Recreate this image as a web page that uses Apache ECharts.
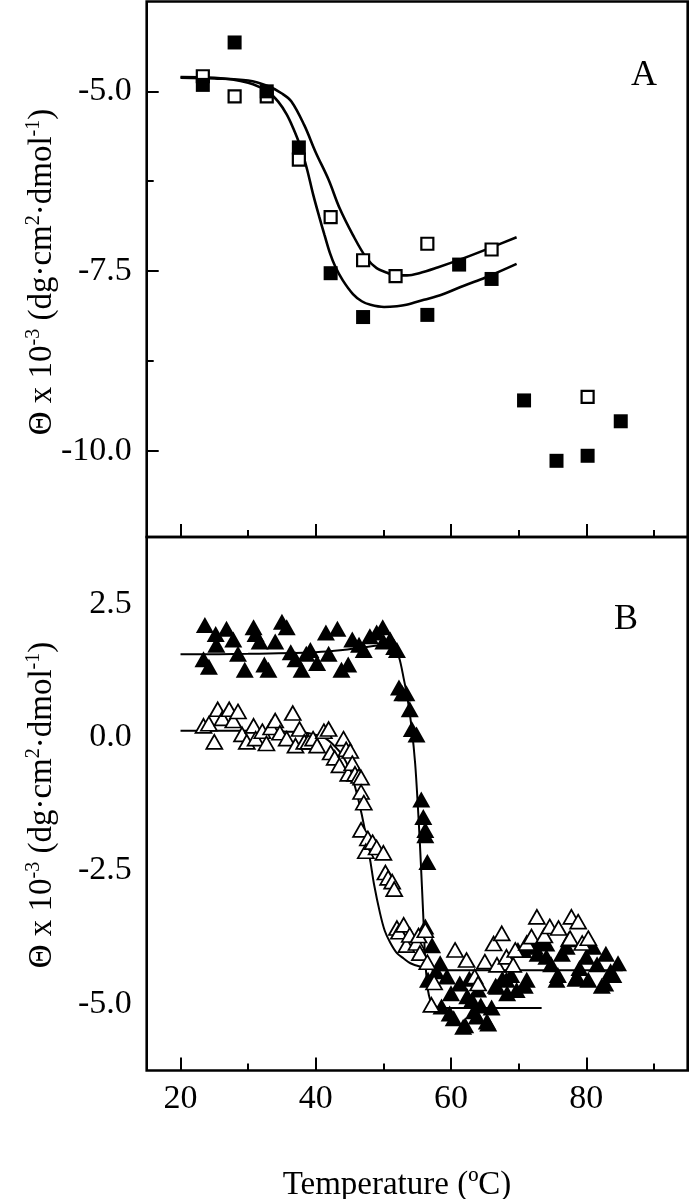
<!DOCTYPE html>
<html><head><meta charset="utf-8">
<script src="https://cdn.jsdelivr.net/npm/echarts@6/dist/echarts.min.js"></script>
<style>html,body{margin:0;padding:0;background:#fff}#c{width:691px;height:1199px}</style>
</head><body><div id="c"></div>
<script>
// ---- tick values ----
const xMajorTicks = [20, 40, 60, 80];
const xMinorTicks = [30, 50, 70, 90];
const yMajorTicksA = [-10, -7.5, -5];
const yMinorTicksA = [-8.75, -6.25];
const yLabelsB = [-5, -2.5, 0, 2.5];

// ---- panel A data ----
const aFilledSquares = [[23.3,-4.91],[28.0,-4.32],[32.75,-5.0],[37.5,-5.78],[42.2,-7.53],[47.0,-8.14],[56.5,-8.11],[61.2,-7.41],[66.0,-7.61],[70.8,-9.30],[75.6,-10.14],[80.2,-10.07],[85.1,-9.59]];
const aOpenSquares = [[23.3,-4.79],[28.0,-5.07],[32.75,-5.07],[37.5,-5.95],[42.2,-6.75],[47.0,-7.35],[51.8,-7.57],[56.5,-7.12],[66.0,-7.20],[80.2,-9.25]];
const aFitOpen = [[20,-4.81],[25,-4.82],[30,-4.85],[33,-4.93],[35,-5.03],[36.4,-5.14],[38.3,-5.47],[40,-5.85],[41.9,-6.23],[43.5,-6.62],[45.5,-7.0],[47.5,-7.32],[49,-7.46],[50.7,-7.53],[52,-7.56],[53.5,-7.56],[55.3,-7.53],[58,-7.45],[61.9,-7.32],[66,-7.17],[69.7,-7.03]];
const aFitFilled = [[20,-4.80],[25,-4.81],[30,-4.88],[33,-5.01],[34.5,-5.15],[35.7,-5.32],[36.7,-5.52],[37.7,-5.76],[38.7,-6.08],[39.6,-6.43],[40.5,-6.74],[41.3,-7.0],[42.1,-7.25],[42.9,-7.44],[44,-7.63],[45.5,-7.82],[46.8,-7.92],[48.1,-7.97],[50.1,-8.0],[52,-7.99],[53.4,-7.97],[56,-7.9],[58.6,-7.83],[62,-7.7],[65.1,-7.59],[69.7,-7.4]];

// ---- panel B data ----
const bFilledTriangles = [[23.6,2.10],[23.4,1.46],[24.2,1.32],[25.2,1.93],[25.3,1.73],[26.8,2.03],[27.8,1.83],[28.5,1.56],[29.5,1.26],[30.8,2.06],[31.1,1.93],[31.7,1.79],[32.4,1.36],[33.0,1.26],[34.0,1.79],[35.0,2.16],[35.7,2.06],[36.3,1.59],[37.0,1.46],[37.9,1.26],[38.6,1.56],[39.2,1.63],[40.2,1.39],[41.5,1.96],[41.9,1.56],[43.2,2.03],[43.8,1.26],[44.8,1.36],[45.4,1.83],[46.4,1.73],[47.1,1.63],[48.0,1.89],[49.0,1.96],[49.9,2.06],[50.0,1.79],[51.0,1.83],[51.6,1.69],[52.0,1.63],
[52.3,0.93],[52.8,0.82],[53.4,0.82],[53.9,0.52],[54.2,0.15],[54.9,0.05],[55.6,-1.17],[55.9,-1.50],[56.2,-1.74],[56.2,-1.84],[56.5,-2.34],[56.2,-3.55],[57.2,-3.90],
[58.4,-4.24],[56.6,-4.55],[57.8,-4.39],[59.4,-4.49],[60.0,-4.80],[61.3,-4.62],[58.6,-5.05],[59.8,-5.18],[60.4,-5.27],[61.8,-5.43],[62.1,-5.40],[62.4,-4.86],[62.7,-4.53],[63.1,-4.93],[63.4,-5.14],[63.8,-5.24],[64.0,-4.73],[64.4,-5.03],[65.3,-5.33],[65.5,-5.37],[66.0,-5.07],[66.6,-4.66],[66.8,-4.68],[67.6,-4.53],[68.2,-4.55],[68.3,-4.80],[68.9,-4.46],[69.7,-4.74],[69.9,-3.99],[70.7,-3.99],[70.9,-4.66],[71.2,-4.55],[71.9,-3.92],[72.4,-3.93],[72.8,-4.06],[73.5,-3.86],[74.1,-3.87],[74.1,-4.12],[74.8,-4.26],[75.6,-4.55],[75.8,-4.46],[76.4,-4.06],[77.1,-3.93],[77.4,-3.79],[78.4,-4.53],[78.6,-4.49],[79.0,-4.33],[80.0,-4.12],[80.3,-4.55],[81.0,-3.93],[81.6,-4.26],[82.3,-4.66],[82.8,-4.62],[82.9,-4.06],[83.6,-4.39],[84.0,-4.46],[84.7,-4.24]];
const bOpenTriangles = [[23.4,0.21],[24.2,0.25],[25.0,-0.09],[25.5,0.52],[26.2,0.35],[27.2,0.52],[27.8,0.31],[28.5,0.48],[29.1,0.05],[29.8,-0.09],[30.8,0.21],[31.1,-0.03],[32.1,0.11],[32.7,-0.12],[33.4,0.18],[34.0,0.31],[34.7,0.08],[35.7,-0.03],[36.6,0.45],[37.0,-0.16],[37.6,0.15],[38.3,-0.09],[38.9,-0.09],[39.6,-0.03],[40.2,-0.16],[41.2,0.11],[41.9,0.15],[42.2,-0.29],[42.8,-0.39],[43.5,-0.53],[44.1,-0.03],[44.5,-0.23],[44.8,-0.69],[45.1,-0.26],[45.4,-0.49],[45.8,-0.69],[46.4,-0.73],[46.7,-0.76],[46.7,-1.03],[47.1,-1.23],[46.7,-1.74],[47.7,-1.90],[47.4,-2.14],[48.4,-1.97],[49.0,-2.07],[50.0,-2.17],[50.3,-2.54],[50.7,-2.64],[51.3,-2.71],[51.6,-2.85],
[52.0,-3.58],[52.3,-3.65],[53.0,-3.52],[53.4,-3.90],[53.9,-3.71],[54.9,-3.86],[55.2,-3.72],[55.4,-4.05],[56.2,-3.62],[56.5,-4.22],[57.1,-5.02],[57.5,-4.60],
[60.6,-3.99],[62.3,-4.18],[63.5,-4.49],[64.0,-4.62],[65.0,-4.21],[66.3,-3.87],[66.8,-4.27],[67.5,-3.68],[68.2,-4.12],[69.2,-4.27],[69.5,-3.99],[71.2,-3.86],[71.9,-3.74],[72.7,-3.37],[73.8,-3.72],[74.6,-3.55],[75.9,-3.58],[77.6,-3.77],[77.8,-3.37],[78.8,-3.46],[79.4,-3.86],[80.3,-3.77]];
const bFitFilled = [[20,1.55],[30,1.56],[40,1.59],[44,1.63],[47,1.68],[50,1.72],[51.5,1.68],[52.3,1.5],[53,1.1],[53.6,0.7],[54.2,0.15],[54.7,-0.5],[55.1,-1.3],[55.4,-2.0],[55.7,-2.8],[55.95,-3.5],[56.2,-4.2],[56.6,-4.75],[57.2,-5.0],[58.3,-5.07],[60,-5.08],[73.4,-5.08]];
const bFitOpen = [[20,0.12],[30,0.12],[36,0.1],[39,0.07],[41.5,-0.03],[43.5,-0.27],[44.5,-0.47],[45.3,-0.72],[46.1,-1.07],[46.8,-1.45],[47.5,-1.9],[48.1,-2.35],[48.6,-2.75],[49.5,-3.3],[50.2,-3.63],[51,-3.85],[52,-4.05],[53,-4.15],[54,-4.24],[55.4,-4.3],[57.9,-4.36],[60,-4.37],[85.4,-4.37]];

const FONT = '"Liberation Serif", "Times New Roman", serif';
const fmt = v => Number(v).toFixed(1);

const chart = echarts.init(document.getElementById('c'), null, {renderer: 'canvas'});

function xAx(gridIndex, ticks, len, labels) {
  return {
    type: 'value', gridIndex, min: 15, max: 95, position: 'bottom',
    axisLine: {show: false, onZero: false},
    splitLine: {show: false},
    axisTick: {show: true, inside: true, length: len, customValues: ticks, lineStyle: {color: '#000', width: 2}},
    axisLabel: labels ? {show: true, customValues: ticks, fontSize: 34, fontFamily: FONT, color: '#000', margin: 12} : {show: false}
  };
}
function yAx(gridIndex, min, max, ticks, len, labels) {
  return {
    type: 'value', gridIndex, min, max, position: 'left',
    axisLine: {show: false, onZero: false},
    splitLine: {show: false},
    axisTick: ticks ? {show: true, inside: true, length: len, customValues: ticks, lineStyle: {color: '#000', width: 2}} : {show: false},
    axisLabel: labels ? {show: true, customValues: labels, formatter: fmt, fontSize: 34, fontFamily: FONT, color: '#000', margin: 15} : {show: false}
  };
}

const titleText = 'Θ x 10{s|-3} (dg·cm{s|2}·dmol{s|-1})';
function yTitle(y) {
  return {type: 'text', x: 42, y: y, rotation: Math.PI / 2, z: 10, style: {
    text: titleText, fontSize: 33, fontFamily: FONT, fill: '#000', lineHeight: 37,
    align: 'center', verticalAlign: 'middle', textAlign: 'center', textVerticalAlign: 'middle',
    rich: {s: {fontSize: 20, fontFamily: FONT, fill: '#000', verticalAlign: 'top', lineHeight: 20}}}};
}

const option = {
  animation: false,
  backgroundColor: '#fff',
  grid: [
    {left: 146.7, top: 1.5, width: 541, height: 535.5, show: true, borderColor: '#000', borderWidth: 2.6, backgroundColor: 'transparent'},
    {left: 146.7, top: 537, width: 541, height: 533.5, show: true, borderColor: '#000', borderWidth: 2.6, backgroundColor: 'transparent'}
  ],
  xAxis: [
    xAx(0, xMajorTicks, 13, false),
    xAx(0, xMinorTicks, 7, false),
    xAx(1, xMajorTicks, 13, true),
    xAx(1, xMinorTicks, 7, false)
  ],
  yAxis: [
    yAx(0, -11.2, -3.75, yMajorTicksA, 12, yMajorTicksA),
    yAx(0, -11.2, -3.75, yMinorTicksA, 7, null),
    yAx(1, -6.25, 3.75, null, 0, yLabelsB)
  ],
  series: [
    {type: 'line', xAxisIndex: 0, yAxisIndex: 0, data: aFitOpen, smooth: 0.35, showSymbol: false, z: 1,
     lineStyle: {color: '#000', width: 2.6}},
    {type: 'line', xAxisIndex: 0, yAxisIndex: 0, data: aFitFilled, smooth: 0.35, showSymbol: false, z: 1,
     lineStyle: {color: '#000', width: 2.6}},
    {type: 'scatter', xAxisIndex: 0, yAxisIndex: 0, data: aOpenSquares, symbol: 'rect', symbolSize: 12, z: 3,
     itemStyle: {color: '#fff', borderColor: '#000', borderWidth: 2.2, opacity: 1}},
    {type: 'scatter', xAxisIndex: 0, yAxisIndex: 0, data: aFilledSquares, symbol: 'rect', symbolSize: 14, z: 4,
     itemStyle: {color: '#000', opacity: 1}},
    {type: 'line', xAxisIndex: 2, yAxisIndex: 2, data: bFitFilled, smooth: 0.3, showSymbol: false, z: 1,
     lineStyle: {color: '#000', width: 2}},
    {type: 'line', xAxisIndex: 2, yAxisIndex: 2, data: bFitOpen, smooth: 0.3, showSymbol: false, z: 1,
     lineStyle: {color: '#000', width: 2}},
    {type: 'scatter', xAxisIndex: 2, yAxisIndex: 2, data: bFilledTriangles, symbol: 'triangle', symbolSize: [18, 16], z: 2,
     itemStyle: {color: '#000', opacity: 1}},
    {type: 'scatter', xAxisIndex: 2, yAxisIndex: 2, data: bOpenTriangles, symbol: 'triangle', symbolSize: [16, 14], z: 3,
     itemStyle: {color: '#fff', borderColor: '#000', borderWidth: 1.7, opacity: 1}}
  ],
  graphic: [
    {type: 'text', x: 644, y: 76, z: 10, style: {text: 'A', fontSize: 36, fontFamily: FONT, fill: '#000', align: 'center', verticalAlign: 'middle', textAlign: 'center', textVerticalAlign: 'middle'}},
    {type: 'text', x: 626, y: 620, z: 10, style: {text: 'B', fontSize: 36, fontFamily: FONT, fill: '#000', align: 'center', verticalAlign: 'middle', textAlign: 'center', textVerticalAlign: 'middle'}},
    {type: 'text', x: 397, y: 1185, z: 10, style: {text: 'Temperature (ºC)', fontSize: 33, fontFamily: FONT, fill: '#000', align: 'center', verticalAlign: 'middle', textAlign: 'center', textVerticalAlign: 'middle'}},
    yTitle(272),
    yTitle(805)
  ]
};
chart.setOption(option);
</script>
</body></html>
